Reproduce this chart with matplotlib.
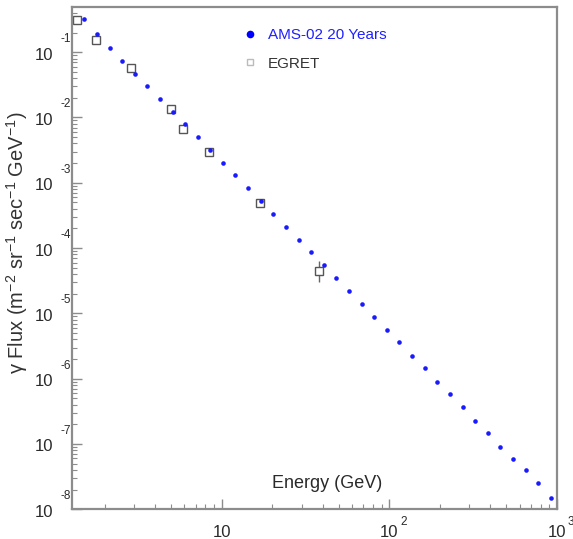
import matplotlib
matplotlib.use('Agg')
import matplotlib.pyplot as plt
from matplotlib.lines import Line2D
from matplotlib.ticker import LogLocator, NullFormatter

plt.rcParams['font.family'] = ['Liberation Sans', 'DejaVu Sans']
plt.rcParams['mathtext.fontset'] = 'custom'
plt.rcParams['mathtext.rm'] = 'Liberation Sans'
plt.rcParams['mathtext.default'] = 'regular'

# AMS-02 expected gamma flux, 20 years (GeV, m^-2 sr^-1 s^-1 GeV^-1)
energy_ams = [1.51, 1.80, 2.16, 2.54, 3.04, 3.58, 4.29, 5.12, 6.04, 7.22,
              8.51, 10.2, 12.0, 14.4, 17.2, 20.2, 24.2, 28.9, 34.1, 40.7,
              48.1, 57.5, 68.7, 81.1, 96.8, 114, 137, 163, 193, 230,
              275, 325, 388, 457, 547, 655, 773, 922]
flux_ams = [0.322, 0.190, 0.116, 0.0733, 0.0463, 0.0303, 0.0192, 0.0121, 7.96e-3, 5.02e-3,
            3.18e-3, 2.01e-3, 1.31e-3, 8.32e-4, 5.26e-4, 3.33e-4, 2.10e-4, 1.33e-4, 8.71e-5, 5.51e-5,
            3.48e-5, 2.20e-5, 1.39e-5, 8.81e-6, 5.57e-6, 3.65e-6, 2.23e-6, 1.46e-6, 8.89e-7, 5.83e-7,
            3.69e-7, 2.25e-7, 1.47e-7, 8.99e-8, 5.89e-8, 4.00e-8, 2.53e-8, 1.49e-8]

# EGRET measurements
energy_egret = [1.37, 1.78, 2.88, 4.98, 5.87, 8.40, 16.9, 38.1]
flux_egret = [0.311, 0.154, 0.0573, 0.0135, 6.67e-3, 2.96e-3, 4.91e-4, 4.46e-5]
err_lo_egret = [0, 0, 0, 0, 0, 0, 0, 1.4e-5]
err_hi_egret = [0, 0, 0, 0, 0, 0, 0, 1.8e-5]

txt = '#2a2a2a'
frame = '#8c8c8c'
px = 0.72  # points per pixel at dpi 100

fig = plt.figure(figsize=(5.73, 5.39), dpi=100)
ax = fig.add_axes([0.1257, 0.0551, 0.8463, 0.9319])
ax.set_xscale('log')
ax.set_yscale('log')
ax.set_xlim(1.28, 1000)
ax.set_ylim(1e-8, 0.492)

ax.errorbar(energy_egret, flux_egret, yerr=[err_lo_egret, err_hi_egret], fmt='s',
            ms=5.5, mfc='white', mec='#555555', mew=1.0, ecolor='#666666',
            elinewidth=1.0, capsize=0, zorder=2)
ax.plot(energy_ams, flux_ams, 'o', ms=3.3, color='#1a1aff', mec='none', zorder=3)

for s in ax.spines.values():
    s.set_color(frame)
    s.set_linewidth(1.6)

ax.tick_params(which='both', direction='in', colors=frame, top=False, right=False,
               labelleft=False, labelbottom=False)
ax.tick_params(which='major', length=7, width=1)
ax.tick_params(which='minor', length=3.5, width=0.8)
ax.xaxis.set_major_locator(LogLocator(base=10, numticks=10))
ax.xaxis.set_minor_locator(LogLocator(base=10, subs=range(2, 10), numticks=20))
ax.yaxis.set_major_locator(LogLocator(base=10, numticks=20))
ax.yaxis.set_minor_locator(LogLocator(base=10, subs=range(2, 10), numticks=40))
ax.xaxis.set_minor_formatter(NullFormatter())
ax.yaxis.set_minor_formatter(NullFormatter())

# ROOT-like power labels: "10" with the exponent set up and to the right
for e in range(-8, 0):
    ax.annotate('10', xy=(0, 10.0 ** e), xycoords=('axes fraction', 'data'),
                xytext=(-19 * px, -3 * px), textcoords='offset points',
                ha='right', va='center', fontsize=12, color=txt, annotation_clip=False)
    ax.annotate(str(e), xy=(0, 10.0 ** e), xycoords=('axes fraction', 'data'),
                xytext=(-12 * px, 13 * px), textcoords='offset points',
                ha='left', va='center', fontsize=8.5, color=txt, annotation_clip=False)

for e in [1, 2, 3]:
    ax.annotate('10', xy=(10.0 ** e, 0), xycoords=('data', 'axes fraction'),
                xytext=(0, -23 * px), textcoords='offset points',
                ha='center', va='center', fontsize=12, color=txt, annotation_clip=False)
    if e > 1:
        ax.annotate(str(e), xy=(10.0 ** e, 0), xycoords=('data', 'axes fraction'),
                    xytext=(11 * px, -13 * px), textcoords='offset points',
                    ha='left', va='center', fontsize=8.5, color=txt, annotation_clip=False)

fig.text(17 / 573, 1 - 243 / 539,
         'γ Flux (m$^{-2}$ sr$^{-1}$ sec$^{-1}$ GeV$^{-1}$)',
         rotation=90, ha='center', va='center', fontsize=14.5, color='#333333')
fig.text(327 / 573, 1 - 484 / 539, 'Energy (GeV)', ha='center', va='center',
         fontsize=13, color=txt)

handles = [Line2D([], [], ls='none', marker='o', ms=5.5, color='blue', mec='none'),
           Line2D([], [], ls='none', marker='s', ms=5, mfc='white', mec='#bbbbbb', mew=1.0)]
leg = ax.legend(handles, ['AMS-02 20 Years', 'EGRET'], loc='upper left',
                bbox_to_anchor=(0.3526, 0.958), frameon=False, fontsize=11,
                handlelength=0.9, handletextpad=0.75, labelspacing=0.95,
                borderpad=0, borderaxespad=0)
for t, c in zip(leg.get_texts(), ['#2020ff', '#333333']):
    t.set_color(c)

fig.savefig('out.png', dpi=100)
